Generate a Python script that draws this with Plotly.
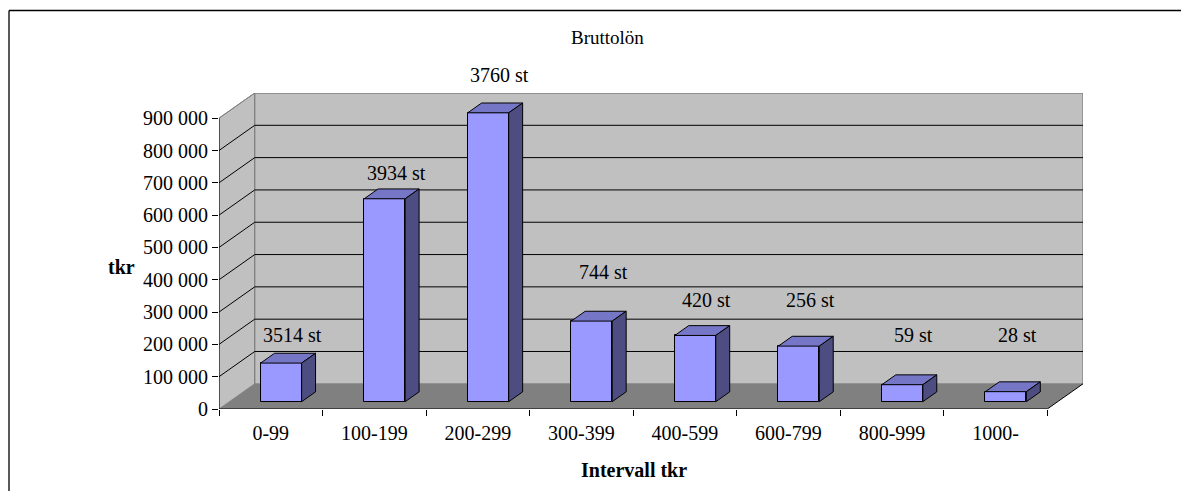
import plotly.graph_objects as go

# ---- data ----
categories = ["0-99", "100-199", "200-299", "300-399", "400-599", "600-799", "800-999", "1000-"]
values = [119500, 628000, 894000, 249500, 205000, 172000, 52600, 31000]   # tkr
counts = ["3514 st", "3934 st", "3760 st", "744 st", "420 st", "256 st", "59 st", "28 st"]
label_levels = [229000, 729500, 1033700, 425000, 337000, 337000, 229000, 229000]
y_ticks = [0, 100000, 200000, 300000, 400000, 500000, 600000, 700000, 800000, 900000]
y_ticktext = ["0", "100 000", "200 000", "300 000", "400 000", "500 000",
              "600 000", "700 000", "800 000", "900 000"]

# ---- 3D pseudo-geometry (in axis units) ----
N = len(categories)
YTOP = y_ticks[-1]
DX = 0.345          # depth offset along x (category units)
DY = 78000          # depth offset along y (value units)
YMAX = YTOP + DY
F1 = 0.29           # front face depth fraction
BD = 0.39           # bar depth fraction
BW = 0.396          # bar width

FONT = "Liberation Serif, Times New Roman, serif"

fig = go.Figure()

# front faces
xc = [i + 0.5 + F1 * DX for i in range(N)]
fig.add_trace(go.Bar(
    x=xc, y=values, base=[F1 * DY] * N, width=BW,
    marker=dict(color="#9999FF", line=dict(color="black", width=1)),
    hoverinfo="skip", showlegend=False,
))

# top and side faces
tx, ty, sx, sy = [], [], [], []
bdx, bdy = BD * DX, BD * DY
for i, v in enumerate(values):
    xl = xc[i] - BW / 2
    xr = xc[i] + BW / 2
    b = F1 * DY
    t = b + v
    tx += [xl, xr, xr + bdx, xl + bdx, xl, None]
    ty += [t, t, t + bdy, t + bdy, t, None]
    sx += [xr, xr, xr + bdx, xr + bdx, xr, None]
    sy += [b, t, t + bdy, b + bdy, b, None]
fig.add_trace(go.Scatter(x=tx, y=ty, mode="lines", fill="toself", fillcolor="#7676C6",
                         line=dict(color="black", width=1), hoverinfo="skip", showlegend=False))
fig.add_trace(go.Scatter(x=sx, y=sy, mode="lines", fill="toself", fillcolor="#4D4D81",
                         line=dict(color="black", width=1), hoverinfo="skip", showlegend=False))

shapes = []
# floor
shapes.append(dict(type="path", layer="below",
                   path=f"M 0,0 L {N},0 L {N+DX},{DY} L {DX},{DY} Z",
                   fillcolor="#808080", line=dict(width=0)))
# side wall
shapes.append(dict(type="path", layer="below",
                   path=f"M 0,0 L {DX},{DY} L {DX},{YTOP+DY} L 0,{YTOP} Z",
                   fillcolor="#C0C0C0", line=dict(color="#808080", width=1)))
# back wall
shapes.append(dict(type="path", layer="below",
                   path=f"M {DX},{DY} L {N+DX},{DY} L {N+DX},{YTOP+DY} L {DX},{YTOP+DY} Z",
                   fillcolor="#C0C0C0", line=dict(color="#808080", width=1.3)))
# gridlines
for v in y_ticks[1:-1]:
    shapes.append(dict(type="line", layer="below", x0=0, y0=v, x1=DX, y1=v + DY,
                       line=dict(color="black", width=1)))
    shapes.append(dict(type="line", layer="below", x0=DX, y0=v + DY, x1=N + DX, y1=v + DY,
                       line=dict(color="black", width=1)))
# front edges
shapes.append(dict(type="line", layer="below", x0=0, y0=0, x1=0, y1=YTOP,
                   line=dict(color="black", width=1)))
shapes.append(dict(type="line", layer="below", x0=0, y0=0, x1=N, y1=0,
                   line=dict(color="black", width=1)))
shapes.append(dict(type="line", layer="below", x0=N, y0=0, x1=N + DX, y1=DY,
                   line=dict(color="black", width=1)))
shapes.append(dict(type="line", layer="below", x0=0, y0=YTOP, x1=DX, y1=YTOP + DY,
                   line=dict(color="#808080", width=1)))

# page places the figure 8px in from the top-left corner
OFF = 8
W, H = 1189, 491
L, T = 219 - OFF, 93 - OFF
pw, ph = 864, 316
R = W - L - pw
B = H - T - ph

def px2x(px):   # reference pixel -> paper x
    return (px - OFF - L) / pw

def py2y(py):   # reference pixel -> paper y
    return (T + ph - (py - OFF)) / ph

# outer frame (top and left border)
shapes.append(dict(type="line", xref="paper", yref="paper",
                   x0=px2x(9), y0=py2y(10.5), x1=px2x(W + 20), y1=py2y(10.5),
                   line=dict(color="black", width=1.3)))
shapes.append(dict(type="line", xref="paper", yref="paper",
                   x0=px2x(9), y0=py2y(10.5), x1=px2x(9), y1=py2y(H + 20),
                   line=dict(color="black", width=1.3)))

annotations = []
for i, (txt, lv) in enumerate(zip(counts, label_levels)):
    annotations.append(dict(x=i + 0.5 + 0.21, xref="x", y=lv / YMAX, yref="y domain",
                            text=txt, showarrow=False, xanchor="center", yanchor="middle",
                            font=dict(family=FONT, size=20, color="black")))
annotations.append(dict(x=px2x(607), y=py2y(38), xref="paper", yref="paper",
                        text="Bruttolön", showarrow=False, xanchor="center", yanchor="middle",
                        font=dict(family=FONT, size=19, color="black")))
annotations.append(dict(x=px2x(121), y=py2y(266.7), xref="paper", yref="paper",
                        text="<b>tkr</b>", showarrow=False, xanchor="center", yanchor="middle",
                        font=dict(family=FONT, size=20, color="black")))
annotations.append(dict(x=px2x(634), y=py2y(470), xref="paper", yref="paper",
                        text="<b>Intervall tkr</b>", showarrow=False, xanchor="center", yanchor="middle",
                        font=dict(family=FONT, size=20, color="black")))

fig.update_layout(
    width=W, height=H,
    margin=dict(l=L, r=R, t=T, b=B, pad=0),
    paper_bgcolor="white", plot_bgcolor="white",
    shapes=shapes, annotations=annotations,
    bargap=0,
    xaxis=dict(range=[0, N + DX], tickmode="array",
               tickvals=[i + 0.5 for i in range(N)], ticktext=categories,
               ticks="", showgrid=False, zeroline=False, showline=False,
               ticklabelstandoff=10,
               tickfont=dict(family=FONT, size=20, color="black"),
               minor=dict(tickmode="array", tickvals=list(range(N + 1)), ticks="outside",
                          ticklen=6, tickwidth=1, tickcolor="black", showgrid=False)),
    yaxis=dict(range=[0, YMAX], tickmode="array", tickvals=y_ticks, ticktext=y_ticktext,
               ticks="outside", ticklen=6, tickwidth=1, tickcolor="black",
               showgrid=False, zeroline=False, showline=False,
               tickfont=dict(family=FONT, size=20, color="black")),
)

fig.write_html("out.html")
